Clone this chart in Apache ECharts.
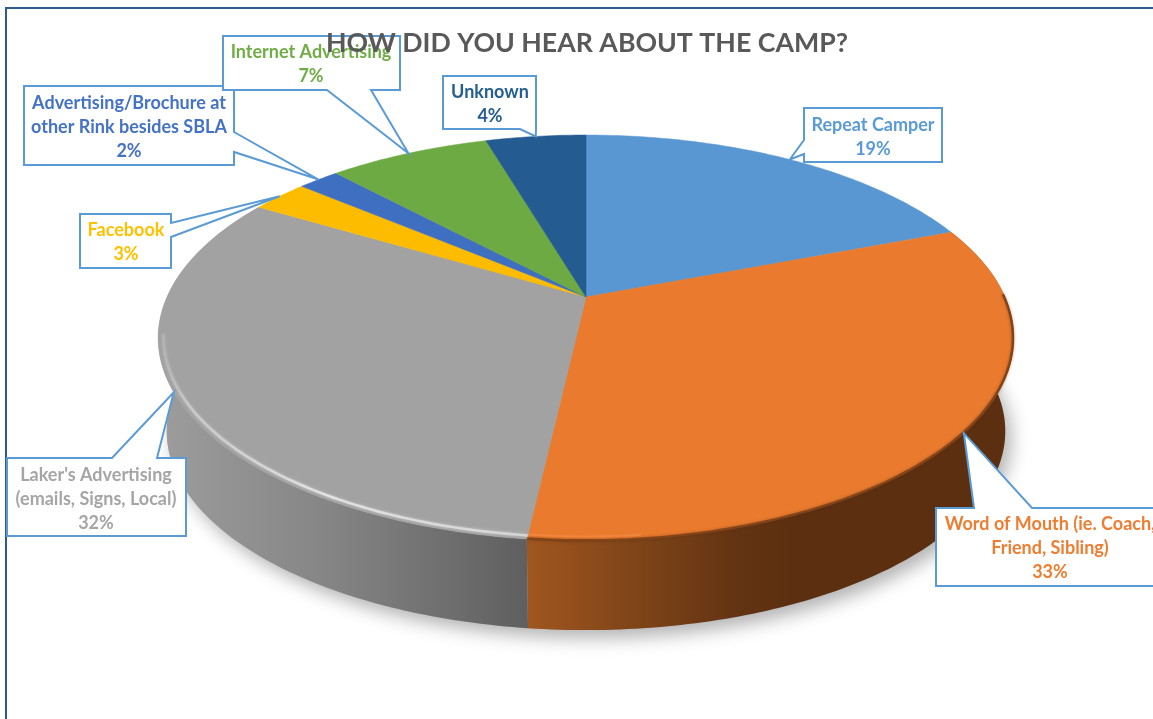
<!DOCTYPE html>
<html><head><meta charset="utf-8">
<style>html,body{margin:0;padding:0;background:#fff}#c{width:1153px;height:719px;filter:blur(0.4px)}</style>
<script src="https://cdn.jsdelivr.net/npm/echarts@6/dist/echarts.min.js"></script>
</head><body><div id="c"></div>
<script>
const categories = ['Repeat Camper','Word of Mouth (ie. Coach,\nFriend, Sibling)',"Laker's Advertising\n(emails, Signs, Local)",'Facebook','Advertising/Brochure at\nother Rink besides SBLA','Internet Advertising','Unknown'];
const shares = [19.2,32.6,31.7,2.6,1.9,7.4,4.6];
const percentLabels = [19,33,32,3,2,7,4];
const titleText = 'HOW DID YOU HEAR ABOUT THE CAMP?';

const colors = ['#5997d3','#e97a2e','#a2a2a2','#fdbc00','#3f6fc1','#6daa44','#245b90'];
const textColors = ['#5b9bd5','#ed7d31','#a5a5a5','#ffc000','#4472c4','#70ad47','#255e91'];
// callout layout: box [x0,y0,x1,y1], edge carrying the wedge, wedge base points in clockwise order, text centre
const callouts = [
 {box:[804,108,942,162], edge:'left',  a:[804,154], b:[804,140], tx:873, ty:137},
 {box:[936,508,1170,586],edge:'top',   a:[974,508], b:[1032,508],tx:1050,ty:548},
 {box:[7,458,186,536],   edge:'top',   a:[112,458], b:[157,458], tx:96,  ty:499},
 {box:[80,214,171,268],  edge:'right', a:[171,223], b:[171,237], tx:126, ty:242},
 {box:[24,86,234,165],   edge:'right', a:[234,132], b:[234,152], tx:129, ty:127},
 {box:[223,36,400,90],   edge:'bottom',a:[371,90],  b:[327,90],  tx:311, ty:64},
 {box:[443,76,536,129],  edge:'bottom',a:[536,129], b:[520,129], tx:490, ty:104}
];
// perspective projection of the disc
const CX=586, CY=297, A=419, B=194.7, K=0.202, WALL_S=0.98, WALL_DY=94;
function project(theta, r, s, dy){
  const u=Math.sin(theta)*r, v=Math.cos(theta)*r, w=1+K*v;
  return [CX+s*A*u/w, CY+dy-s*B*v/w];
}
const total = shares.reduce((a,b)=>a+b,0);
const angles=[]; { let c=0; shares.forEach(v=>{const s=c; c+=v; angles.push([s/total*2*Math.PI, c/total*2*Math.PI]);}); }
function arc(t0,t1,r,s,dy){
  const n=Math.max(4,Math.ceil((t1-t0)/0.015)), pts=[];
  for(let i=0;i<=n;i++) pts.push(project(t0+(t1-t0)*i/n,r,s,dy));
  return pts;
}
function grad(x0,x1,stops){return {type:'linear',global:true,x:x0,y:0,x2:x1,y2:0,colorStops:stops.map(s=>({offset:s[0],color:s[1]}))};}
const wallFill = {
 1: grad(528,1015,[[0,'#a0561f'],[0.2,'#824619'],[0.42,'#643413'],[0.55,'#5b2f10'],[1,'#5b2f10']]),
 2: grad(165,528,[[0,'#9c9c9c'],[0.45,'#858585'],[1,'#5f5f5f']])
};
const ids = categories.map((_,i)=>i);

const option = {
 animation:false,
 backgroundColor:'#fff',
 title:{text:titleText,left:321,top:25,zlevel:1,textStyle:{color:'#595959',fontFamily:'Lato',fontWeight:'bold',fontSize:26.7}},
 graphic:[{type:'polyline',z:0,shape:{points:[[6,719],[6,8],[1153,8]]},style:{stroke:'#2c5a8c',lineWidth:2,fill:null}}],
 series:[
  // ground shadow
  {type:'custom',coordinateSystem:'none',silent:true,z:2,data:[0],
   renderItem(){return {type:'polygon',shape:{points:arc(0,2*Math.PI,1,WALL_S,WALL_DY)},
     style:{fill:'#bbb',shadowColor:'rgba(0,0,0,0.3)',shadowBlur:18,shadowOffsetY:8,shadowOffsetX:6}};}},
  // side walls
  {type:'custom',coordinateSystem:'none',silent:true,z:3,data:ids,
   renderItem(p,api){
     const i=api.value(0), [t0,t1]=angles[i];
     if(!wallFill[i]) return {type:'group',children:[]};
     const pts=arc(t0,t1,1,1,0).concat(arc(t0,t1,1,WALL_S,WALL_DY).reverse());
     return {type:'polygon',shape:{points:pts},style:{fill:wallFill[i]}};
   }},
  // top faces
  {type:'custom',coordinateSystem:'none',silent:true,z:4,data:ids,
   renderItem(p,api){
     const i=api.value(0), [t0,t1]=angles[i];
     return {type:'polygon',shape:{points:[[CX,CY]].concat(arc(t0,t1,1,1,0))},style:{fill:colors[i],stroke:colors[i],lineWidth:0.5}};
   }},
  // rim bevel
  {type:'custom',coordinateSystem:'none',silent:true,z:5,data:[1,2],
   renderItem(p,api){
     const i=api.value(0), [t0,t1]=angles[i];
     if(i===1) return {type:'group',children:[
       {type:'polyline',shape:{points:arc(t0+0.35,t1,0.998,1,0)},style:{fill:null,stroke:'rgba(90,45,14,0.6)',lineWidth:2.5,shadowColor:'rgba(90,45,14,0.7)',shadowBlur:3}},
       {type:'polyline',shape:{points:arc(t1-0.22,t1,0.985,1,0)},style:{fill:null,stroke:'rgba(245,140,70,0.7)',lineWidth:2}}
     ]};
     return {type:'group',children:[
       {type:'polyline',shape:{points:arc(t0,t1-0.72,0.988,1,0)},style:{fill:null,stroke:grad(158,528,[[0,'rgba(185,185,185,0.35)'],[0.08,'rgba(205,205,205,0.8)'],[0.45,'rgba(228,228,228,0.95)'],[1,'rgba(215,215,215,0.9)']]),lineWidth:2.5,shadowColor:'rgba(235,235,235,0.6)',shadowBlur:3}}
     ]};
   }},
  // callouts
  {type:'custom',coordinateSystem:'none',silent:true,z:6,data:ids,
   renderItem(p,api){
     const i=api.value(0), [t0,t1]=angles[i], c=callouts[i], [x0,y0,x1,y1]=c.box;
     const tip=project((t0+t1)/2,1,1,0);
     const w=[c.a,tip,c.b];
     const pts=[[x0,y0]];
     if(c.edge==='top')pts.push(...w); pts.push([x1,y0]);
     if(c.edge==='right')pts.push(...w); pts.push([x1,y1]);
     if(c.edge==='bottom')pts.push(...w); pts.push([x0,y1]);
     if(c.edge==='left')pts.push(...w);
     return {type:'group',children:[
       {type:'polygon',shape:{points:pts},style:{fill:'#fff',stroke:'#5b9bd5',lineWidth:2,lineJoin:'miter'}},
       {type:'text',style:{text:categories[i]+'\n'+percentLabels[i]+'%',x:c.tx,y:c.ty,align:'center',verticalAlign:'middle',
         fill:textColors[i],fontFamily:'Lato',fontWeight:'bold',fontSize:18,lineHeight:24}}
     ]};
   }}
 ]
};
echarts.init(document.getElementById('c'),null,{renderer:'canvas'}).setOption(option);
</script></body></html>
